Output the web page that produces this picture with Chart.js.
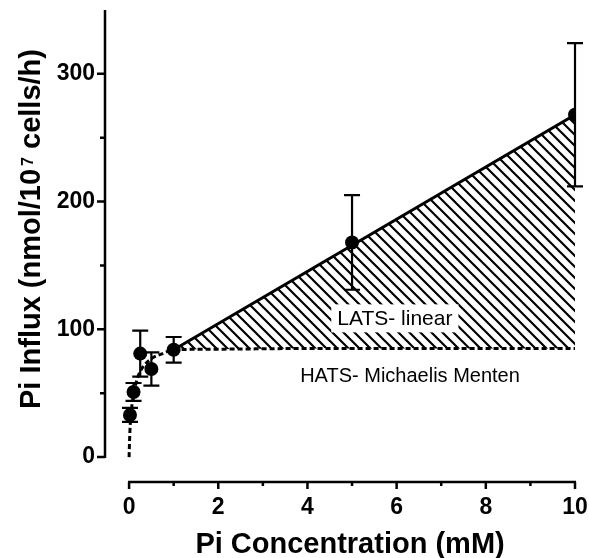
<!DOCTYPE html>
<html>
<head>
<meta charset="utf-8">
<script src="https://cdn.jsdelivr.net/npm/chart.js@4.4.0/dist/chart.umd.min.js"></script>
<style>
  body { margin: 0; background: #fff; }
  canvas { display: block; }
</style>
</head>
<body>
<canvas id="piChart" width="589" height="558"></canvas>
<script>
// measured points (mean +/- error)
const concentration = [0.02, 0.1, 0.25, 0.5, 1, 5, 10];
const influx = [33, 51, 81, 69, 84, 168, 268];
const influxErr = [5.5, 7, 18, 13, 10, 37, 56];

// HATS - Michaelis Menten fit (dashed)
const mmX = [0, 0.01, 0.02, 0.04, 0.07, 0.1, 0.15, 0.2, 0.3, 0.5, 0.75, 1, 2, 4, 6, 8, 10];
const mmY = [0, 12, 21, 33, 42, 49, 57, 63, 70, 77, 81, 84, 84.5, 85, 85, 85, 85];

// LATS - linear part (solid)
const linX = [1, 10];
const linY = [84, 268];

// axis ticks
const xMajor = [0, 2, 4, 6, 8, 10];
const xMinor = [1, 3, 5, 7, 9];
const yMajor = [0, 100, 200, 300];
const yMinor = [50, 150, 250];
const yTop = 350;

const FONT = '"Liberation Sans", Arial, Helvetica, sans-serif';

function toXY(xs, ys) {
  return xs.map((x, i) => ({ x: x, y: ys[i] }));
}

function makeHatch() {
  const n = 11;
  const c = document.createElement("canvas");
  c.width = n;
  c.height = n;
  const g = c.getContext("2d");
  g.strokeStyle = "#000";
  g.lineWidth = 2.2;
  g.beginPath();
  g.moveTo(-2, -2); g.lineTo(n + 2, n + 2);
  g.moveTo(-2, n - 2); g.lineTo(2, n + 2);
  g.moveTo(n - 2, -2); g.lineTo(n + 2, 2);
  g.stroke();
  return g.createPattern(c, "repeat");
}

// axis lines, tick marks, error bars, titles and text labels
const extras = {
  id: "extras",
  afterDatasetsDraw(chart) {
    const ctx = chart.ctx;
    const xs = chart.scales.x, ys = chart.scales.y;
    ctx.save();
    ctx.strokeStyle = "#000";
    ctx.lineWidth = 2.2;
    concentration.forEach((c, i) => {
      const px = xs.getPixelForValue(c);
      const top = ys.getPixelForValue(influx[i] + influxErr[i]);
      const bot = ys.getPixelForValue(influx[i] - influxErr[i]);
      ctx.beginPath();
      ctx.moveTo(px, top); ctx.lineTo(px, bot);
      ctx.moveTo(px - 8, top); ctx.lineTo(px + 8, top);
      ctx.moveTo(px - 8, bot); ctx.lineTo(px + 8, bot);
      ctx.stroke();
    });
    ctx.restore();
  },
  afterDraw(chart) {
    const ctx = chart.ctx;
    const xs = chart.scales.x, ys = chart.scales.y;
    const area = chart.chartArea;
    ctx.save();
    ctx.strokeStyle = "#000";
    ctx.lineWidth = 2.5;
    ctx.lineCap = "butt";

    // y axis
    const ax = area.left;
    ctx.beginPath();
    ctx.moveTo(ax, ys.getPixelForValue(0) + 1);
    ctx.lineTo(ax, ys.getPixelForValue(yTop));
    yMajor.forEach(v => { const p = ys.getPixelForValue(v); ctx.moveTo(ax, p); ctx.lineTo(ax - 8, p); });
    yMinor.forEach(v => { const p = ys.getPixelForValue(v); ctx.moveTo(ax, p); ctx.lineTo(ax - 5, p); });
    ctx.stroke();

    // x axis
    const ay = area.bottom;
    ctx.beginPath();
    ctx.moveTo(xs.getPixelForValue(0) - 1, ay);
    ctx.lineTo(xs.getPixelForValue(10) + 1, ay);
    xMajor.forEach(v => { const p = xs.getPixelForValue(v); ctx.moveTo(p, ay); ctx.lineTo(p, ay + 7); });
    xMinor.forEach(v => { const p = xs.getPixelForValue(v); ctx.moveTo(p, ay); ctx.lineTo(p, ay + 4); });
    ctx.stroke();

    ctx.fillStyle = "#000";

    // x title
    ctx.font = "bold 29px " + FONT;
    ctx.textAlign = "center";
    ctx.textBaseline = "alphabetic";
    const midX = (xs.getPixelForValue(0) + xs.getPixelForValue(10)) / 2;
    ctx.fillText("Pi Concentration (mM)", midX - 2, 553);

    // y title with superscript
    const big = "bold 29px " + FONT;
    const small = "bold 16px " + FONT;
    const parts = [
      { t: "Pi Influx (nmol/10", f: big, dy: 0, gap: 3 },
      { t: "7", f: small, dy: -7, gap: 0 },
      { t: " cells/h)", f: big, dy: 0, gap: 0 }
    ];
    let total = 0;
    parts.forEach(p => { ctx.font = p.f; p.w = ctx.measureText(p.t).width; total += p.w + p.gap; });
    ctx.translate(40, 229);
    ctx.rotate(-Math.PI / 2);
    ctx.textAlign = "left";
    let cx = -total / 2;
    parts.forEach(p => {
      ctx.font = p.f;
      ctx.fillText(p.t, cx, p.dy);
      cx += p.w + p.gap;
    });
    ctx.restore();

    // in-plot labels
    ctx.save();
    ctx.font = "21px " + FONT;
    ctx.textAlign = "center";
    ctx.textBaseline = "middle";
    const lx = xs.getPixelForValue(5.96), ly = ys.getPixelForValue(108.6);
    const lw = ctx.measureText("LATS- linear").width;
    ctx.fillStyle = "#fff";
    ctx.fillRect(lx - lw / 2 - 6, ly - 14, lw + 12, 28);
    ctx.fillStyle = "#000";
    ctx.fillText("LATS- linear", lx, ly + 1);
    ctx.font = "20px " + FONT;
    ctx.fillText("HATS- Michaelis Menten", xs.getPixelForValue(6.3), ys.getPixelForValue(64) + 1);
    ctx.restore();
  }
};

const tickFont = { family: FONT, size: 23, weight: "bold" };

new Chart(document.getElementById("piChart"), {
  type: "scatter",
  data: {
    datasets: [
      {
        label: "Pi influx",
        data: toXY(concentration, influx),
        showLine: false,
        pointRadius: 7,
        pointBackgroundColor: "#000",
        pointBorderColor: "#000",
        pointBorderWidth: 0
      },
      {
        label: "LATS",
        data: toXY(linX, linY),
        showLine: true,
        borderColor: "#000",
        borderWidth: 3,
        pointRadius: 0,
        backgroundColor: makeHatch(),
        fill: { target: 2 }
      },
      {
        label: "HATS",
        data: toXY(mmX, mmY),
        showLine: true,
        borderColor: "#000",
        borderWidth: 3,
        borderDash: [5, 3],
        pointRadius: 0,
        cubicInterpolationMode: "monotone",
        fill: false
      }
    ]
  },
  options: {
    responsive: false,
    animation: false,
    layout: { padding: { left: 0, right: 14, top: 10, bottom: 0 } },
    plugins: {
      legend: { display: false },
      tooltip: { enabled: false },
      filler: { drawTime: "beforeDatasetsDraw" }
    },
    scales: {
      x: {
        type: "linear",
        min: -0.54,
        max: 10,
        afterFit: s => { s.height = 76; s.paddingLeft = 0; s.paddingRight = 0; },
        grid: { display: false, drawTicks: true, tickLength: 8 },
        border: { display: false },
        ticks: {
          stepSize: 1,
          includeBounds: false,
          autoSkip: false,
          maxRotation: 0,
          padding: 4,
          color: "#000",
          font: tickFont,
          callback: v => xMajor.includes(v) ? String(v) : ""
        }
      },
      y: {
        type: "linear",
        min: -19.5,
        max: yTop,
        afterFit: s => { s.width = 105; s.paddingTop = 0; s.paddingBottom = 0; },
        grid: { display: false, drawTicks: true, tickLength: 8 },
        border: { display: false },
        ticks: {
          stepSize: 50,
          includeBounds: false,
          autoSkip: false,
          padding: 2,
          color: "#000",
          font: tickFont,
          callback: v => yMajor.includes(v) ? String(v) : ""
        }
      }
    }
  },
  plugins: [extras]
});
</script>
</body>
</html>
